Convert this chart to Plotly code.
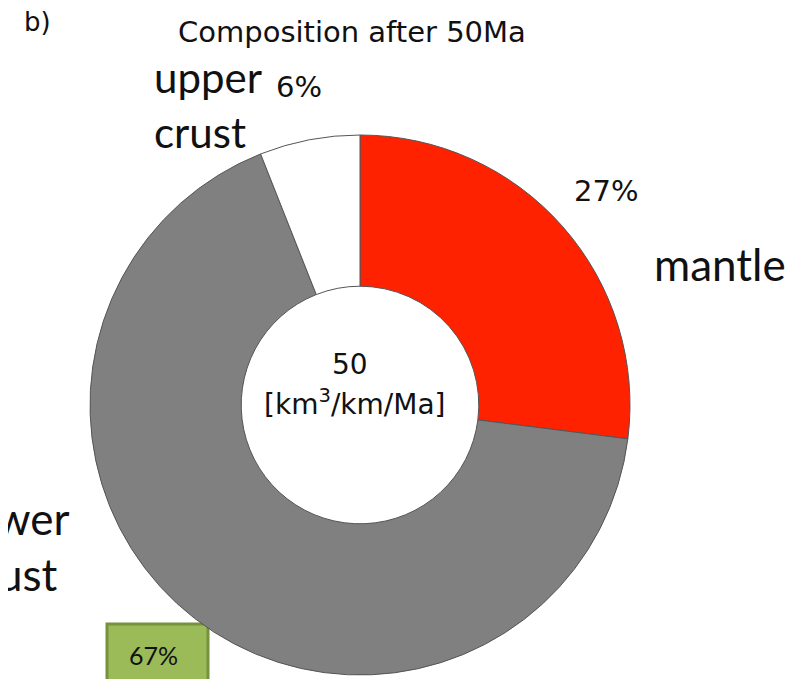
import plotly.graph_objects as go

# Composición tras 50 Ma
componentes = ['mantle', 'lower crust', 'upper crust']
porcentajes = [27, 67, 6]
colores = ['#FF2200', '#808080', '#FFFFFF']

W, H = 800, 679
OFFSET = 8  # margen del body de la página
ARIAL = 'DejaVu Sans, Liberation Sans, Arial, sans-serif'
CALIBRI = 'Lato, Carlito, Calibri, sans-serif'


def px_x(x):
    return (x - OFFSET) / W


def px_y(y):
    return 1 - (y - OFFSET) / H


# centro del anillo y radio en píxeles de pantalla
cx, cy, r = 360, 405, 270

fig = go.Figure(go.Pie(
    labels=componentes,
    values=porcentajes,
    sort=False,
    direction='clockwise',
    rotation=0,
    hole=0.44,
    textinfo='none',
    hoverinfo='label+percent',
    marker=dict(colors=colores, line=dict(color='#555555', width=1)),
    domain=dict(x=[px_x(cx - r), px_x(cx + r)], y=[px_y(cy + r), px_y(cy - r)]),
    showlegend=False,
))

anotaciones = [
    ('b)', 22, 22, 'left', 26, ARIAL),
    ('Composition after 50Ma', 352, 32, 'center', 29, ARIAL),
    ('upper', 152, 77, 'left', 42, CALIBRI),
    ('6%', 299, 87, 'center', 29, ARIAL),
    ('crust', 152, 132, 'left', 42, CALIBRI),
    ('27%', 606, 191, 'center', 29, ARIAL),
    ('mantle', 652, 264, 'left', 44, CALIBRI),
    ('lower', 72, 518, 'right', 44, CALIBRI),
    ('crust', 60, 574, 'right', 44, CALIBRI),
    ('50', 350, 364, 'center', 28, ARIAL),
    ('[km<sup>3</sup>/km/Ma]', 355, 402, 'center', 28, ARIAL),
    ('67%', 153, 655, 'center', 25, CALIBRI),
]

for texto, x, y, anclaje, tam, fuente in anotaciones:
    fig.add_annotation(
        text=texto, x=px_x(x), y=px_y(y), xref='paper', yref='paper',
        xanchor=anclaje, yanchor='middle', showarrow=False,
        font=dict(size=tam, family=fuente, color='#111111'),
    )

# caja verde del 67%
fig.add_shape(
    type='rect', xref='paper', yref='paper',
    x0=px_x(107), x1=px_x(208), y0=px_y(700), y1=px_y(624),
    fillcolor='#9BBB59', line=dict(color='#76923C', width=3),
    layer='below',
)

fig.update_layout(
    width=W, height=H,
    margin=dict(l=0, r=0, t=0, b=0),
    paper_bgcolor='white',
    plot_bgcolor='white',
)

fig.write_html('out.html')
